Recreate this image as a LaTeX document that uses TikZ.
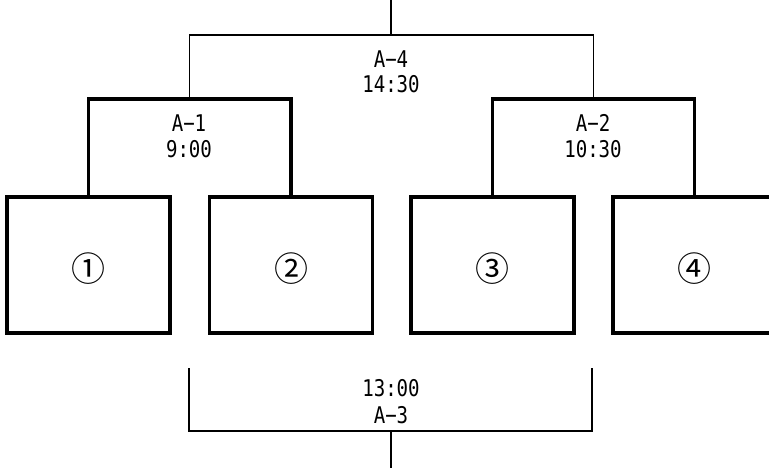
\documentclass[tikz,border=0pt]{standalone}
\usepackage{fontspec}
\newfontfamily\lblfont[FakeStretch=0.83]{DejaVu Sans Mono}
\newfontfamily\numfont{Noto Sans CJK JP}
\tikzset{
  room/.style={draw, line width=3.5pt, minimum width=163pt, minimum height=136pt, inner sep=0pt},
  heavy/.style={line width=3.5pt},
  light/.style={line width=1.6pt},
  lbl/.style={font=\lblfont\fontsize{23}{23}\selectfont, anchor=base, inner sep=0pt},
  num/.style={font=\numfont\fontsize{34}{34}\selectfont, inner sep=0pt}
}
\begin{document}
\begin{tikzpicture}[x=1pt, y=-1pt]
\clip (0,0) rectangle (769,468);
\foreach \i/\x/\c in {1/88.5/①, 2/291/②, 3/492.5/③, 4/694.5/④} {
    \node[room] (p\i) at (\x, 265) {};
    \node[num] (n\i) at (\x, 269) {\c};
}

% first round
\coordinate (m1) at (189.5, 99);
\coordinate (m2) at (593.5, 99);
\draw[heavy] (p1.north) |- (m1) -| (p2.north);
\draw[heavy] (p3.north) |- (m2) -| (p4.north);
\node[lbl] (a1) at (189, 132) {A−1};
\node[lbl] (s1) at (189, 158) {9:00};
\node[lbl] (a2) at (593, 132) {A−2};
\node[lbl] (s2) at (593, 158) {10:30};

% final
\coordinate (t) at (391, 35);
\coordinate (tend) at (391, 0);
\draw[light] (m1) |- (t) -| (m2);
\draw[light] (t) -- (tend);
\node[lbl] (a4) at (391, 68) {A−4};
\node[lbl] (s4) at (391, 93) {14:30};

% third place
\coordinate (b1) at (189, 368);
\coordinate (b2) at (592, 368);
\coordinate (b) at (391, 431);
\coordinate (bend) at (391, 468);
\draw[light] (b1) |- (b) -| (b2);
\draw[light] (b) -- (bend);
\node[lbl] (s3) at (391, 396) {13:00};
\node[lbl] (a3) at (391, 423) {A−3};
\end{tikzpicture}
\end{document}
